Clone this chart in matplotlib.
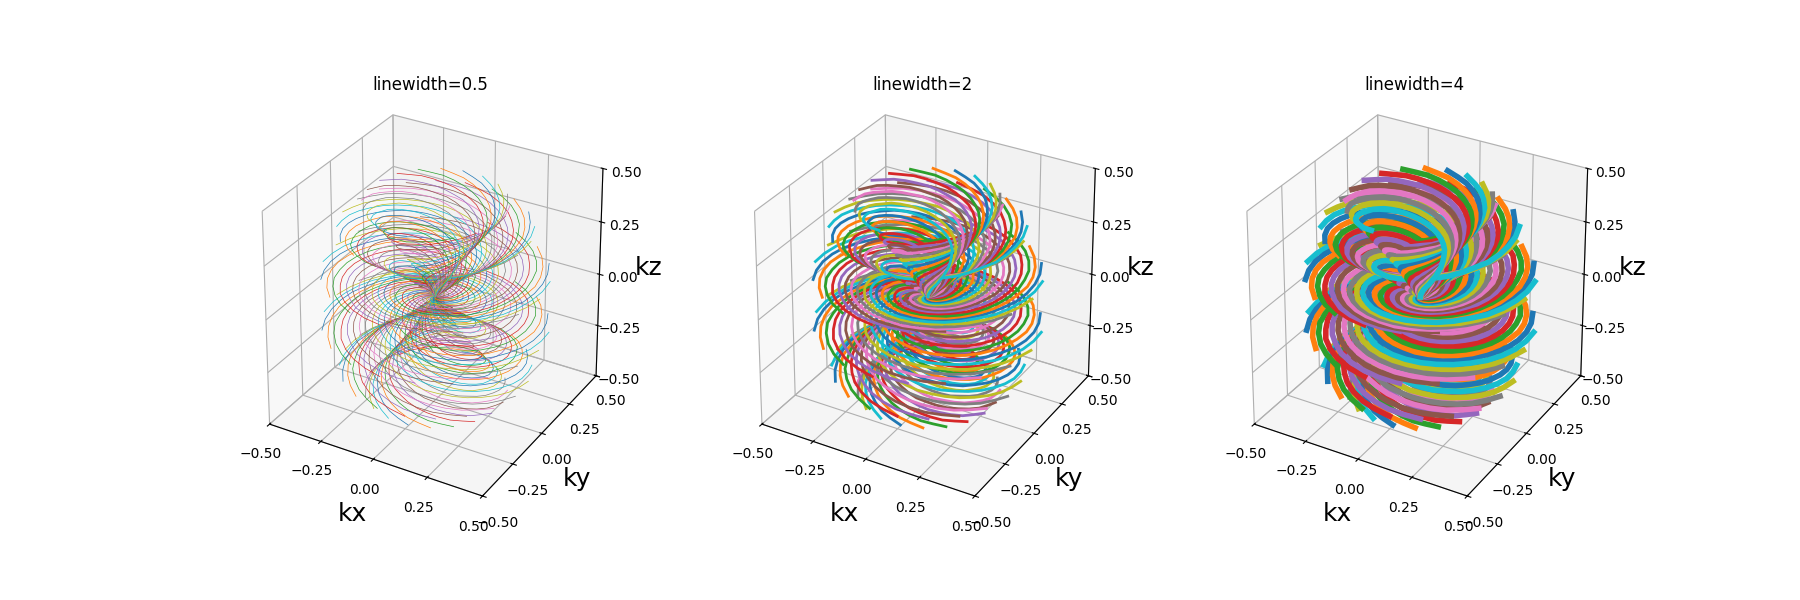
import matplotlib
matplotlib.use("Agg")
import matplotlib.pyplot as plt
import numpy as np

line_widths = [0.5, 2, 4]
tick_values = [-0.5, -0.25, 0.0, 0.25, 0.5]

# one arm: turn (deg), share of full radius, share of full height
arm_turn = [0, 10, 20, 30, 40, 50, 60, 70, 80, 90, 100, 110, 120, 130, 140, 150,
            160, 170, 180, 190, 200, 210, 220, 230, 240, 250, 260, 270, 280, 290,
            300, 310, 320]
arm_radius = [0.0, 0.03, 0.06, 0.09, 0.13, 0.16, 0.19, 0.22, 0.25, 0.28, 0.31, 0.34,
              0.38, 0.41, 0.44, 0.47, 0.50, 0.53, 0.56, 0.59, 0.63, 0.66, 0.69, 0.72,
              0.75, 0.78, 0.81, 0.84, 0.88, 0.91, 0.94, 0.97, 1.0]
arm_height = [0.0, 0.04, 0.07, 0.11, 0.15, 0.18, 0.22, 0.25, 0.29, 0.32, 0.36, 0.39,
              0.43, 0.46, 0.49, 0.52, 0.55, 0.58, 0.61, 0.64, 0.67, 0.70, 0.73, 0.76,
              0.79, 0.81, 0.84, 0.87, 0.89, 0.92, 0.95, 0.97, 1.0]

# cones in drawing order, bottom one first
cone_radius = [0.30, 0.40, 0.47, 0.47, 0.40, 0.30]
cone_height = [-0.44, -0.33, -0.12, 0.12, 0.33, 0.44]

azimuth_narrow = [-42, -24, -6, 12, 30, 48, 66, 84, 102, 120,
                  138, 156, 174, 192, 210, 228, 246, 264, 282, 300]
azimuth_bowl = [88, 106, 124, 142, 160, 178, 196, 214, 232, 250,
                268, 286, 304, 322, 340, 358, 16, 34, 52, 70]
azimuth_disc = [78, 96, 114, 132, 150, 168, 186, 204, 222, 240,
                258, 276, 294, 312, 330, 348, 6, 24, 42, 60]
cone_azimuth = [azimuth_narrow, azimuth_bowl, azimuth_disc,
                azimuth_disc, azimuth_bowl, azimuth_narrow]

turn = np.radians(arm_turn)
radius = np.array(arm_radius)
height = np.array(arm_height)

fig = plt.figure(figsize=(18, 6))
for i, lw in enumerate(line_widths):
    ax = fig.add_subplot(1, 3, i + 1, projection="3d", computed_zorder=False)
    # axes fill the whole subplot box instead of being squared
    ax.apply_aspect = lambda position=None: None
    ax.set_box_aspect((4, 4, 3.43), zoom=0.955)
    ax.view_init(elev=27, azim=-60)
    for r_end, z_end, azimuths in zip(cone_radius, cone_height, cone_azimuth):
        for az in azimuths:
            phi = turn + np.radians(az)
            kx = r_end * radius * np.cos(phi)
            ky = r_end * radius * np.sin(phi)
            kz = z_end * height
            ax.plot(kx, ky, kz, linewidth=lw)
    ax.set_xlim(-0.5, 0.5)
    ax.set_ylim(-0.5, 0.5)
    ax.set_zlim(-0.5, 0.5)
    ax.set_xticks(tick_values)
    ax.set_yticks(tick_values)
    ax.set_zticks(tick_values)
    ax.set_xlabel("kx", fontsize=18, labelpad=6)
    ax.set_ylabel("ky", fontsize=18, labelpad=6)
    ax.set_zlabel("kz", fontsize=18)
    ax.set_title(f"linewidth={lw}", y=1.025)

plt.savefig("out.png", dpi=100)
